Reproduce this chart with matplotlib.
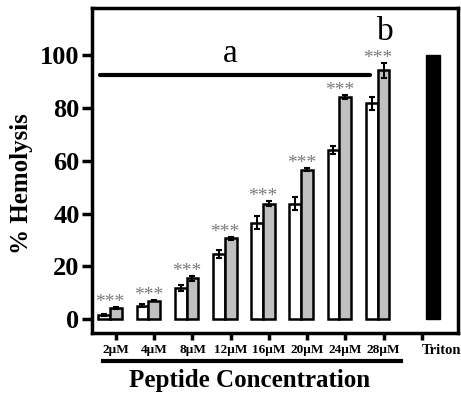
import numpy as np
import matplotlib.pyplot as plt
import matplotlib.transforms as mtransforms

plt.rcParams['font.family'] = ['Liberation Serif', 'DejaVu Serif']

labels = ['2µM', '4µM', '8µM', '12µM', '16µM', '20µM', '24µM', '28µM']
white_vals = [1.6, 5.1, 11.8, 24.8, 36.5, 43.8, 64.3, 81.8]
white_err = [0.4, 0.5, 1.0, 1.5, 2.5, 2.5, 1.5, 2.5]
gray_vals = [4.2, 7.0, 15.4, 30.6, 43.8, 56.7, 84.3, 94.3]
gray_err = [0.3, 0.3, 0.8, 0.6, 1.0, 0.7, 0.8, 3.0]
triton_val = 100
sig = ['***'] * 8

fig = plt.figure(figsize=(4.61, 3.94), dpi=100)
ax = fig.add_axes([0.1996, 0.1548, 0.7939, 0.8249])

x = np.arange(len(labels))
w = 0.31
ax.bar(x - w, white_vals, w, color='white', edgecolor='black', linewidth=1.8, zorder=2)
ax.bar(x, gray_vals, w, color='#c0c0c0', edgecolor='black', linewidth=1.8, zorder=2)
ax.errorbar(x - w, white_vals, yerr=white_err, fmt='none', ecolor='black',
            elinewidth=1.5, capsize=2.5, capthick=1.5, zorder=3)
ax.errorbar(x, gray_vals, yerr=gray_err, fmt='none', ecolor='black',
            elinewidth=1.5, capsize=2.5, capthick=1.5, zorder=3)
ax.bar(8.3, triton_val, 0.36, color='black', edgecolor='black', zorder=2)

for i in range(len(labels)):
    top = gray_vals[i] + gray_err[i]
    ax.text(x[i] - w / 2, top - 1.5, sig[i], ha='center', va='bottom',
            fontsize=14, color='#7a7a7a')

# significance line and letters
ax.plot([-0.42, 6.65], [92.5, 92.5], color='black', lw=3, solid_capstyle='round')
ax.text(3.0, 100.5, 'a', ha='center', va='center', fontsize=24)
ax.text(7.05, 109, 'b', ha='center', va='center', fontsize=24)

ax.set_xlim(-0.63, 8.95)
ax.set_ylim(-5.3, 118)
ax.set_xticks(list(x) + [8])
ax.set_xticklabels(labels + ['Triton'], fontsize=9.5, fontweight='bold')
tl = ax.get_xticklabels()[-1]
tl.set_fontsize(10.5)
tl.set_horizontalalignment('left')
tl.set_transform(tl.get_transform() + mtransforms.ScaledTranslation(-3 / 100, 0, fig.dpi_scale_trans))
ax.set_yticks([0, 20, 40, 60, 80, 100])
ax.set_yticklabels(['0', '20', '40', '60', '80', '100'], fontsize=19, fontweight='bold')
ax.tick_params(axis='y', direction='out', length=7, width=2.5, pad=2)
ax.tick_params(axis='x', direction='out', length=5, width=2.5, pad=3)
for s in ax.spines.values():
    s.set_linewidth(2.5)

ax.set_ylabel('% Hemolysis', fontsize=18, fontweight='bold')
ax.yaxis.set_label_coords(-0.16, 0.46)

# bracket under peptide concentrations
ax.plot([-0.33, 7.45], [-16, -16], color='black', lw=3, clip_on=False)
ax.text(3.5, -23.5, 'Peptide Concentration', ha='center', va='center',
        fontsize=18, fontweight='bold')

fig.savefig('out.png', dpi=100)
